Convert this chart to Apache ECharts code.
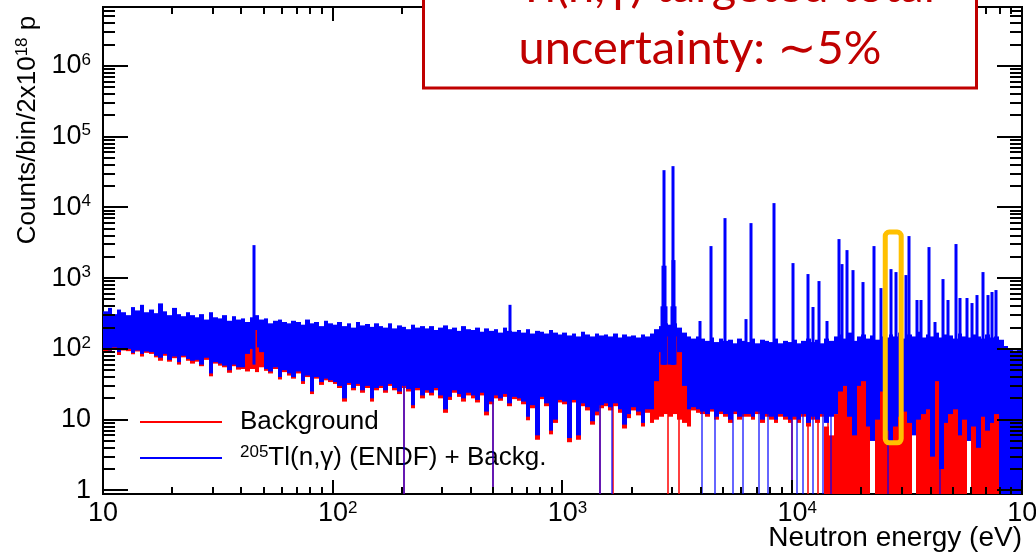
<!DOCTYPE html>
<html>
<head>
<meta charset="utf-8">
<script src="https://cdn.jsdelivr.net/npm/echarts@6/dist/echarts.min.js"></script>
<style>
  html, body { margin: 0; padding: 0; background: #fff; }
  #chart { width: 1036px; height: 555px; }
</style>
</head>
<body>
<div id="chart"></div>
<script>
// ---- axis limits -------------------------------------------------------
const X_MIN = 10, X_MAX = 1e5;        // neutron energy, eV
const Y_MIN = 0.89, Y_MAX = 6.8e6;    // counts / bin
const BINS_PER_DECADE = 50;           // equal-log-width histogram bins

// ---- tick marks and labels ---------------------------------------------
const xMajorTicks = [10, 100, 1000, 10000, 100000];
const xTickLabels = ['10', '10^2', '10^3', '10^4', '10^5'];
const yMajorTicks = [1, 10, 100, 1e3, 1e4, 1e5, 1e6];
const yTickLabels = ['1', '10', '10^2', '10^3', '10^4', '10^5', '10^6'];

// ---- 205Tl(n,g) (ENDF) + background: per-bin spread of the spectrum ----
// upper edge of the band (counts) for each bin, 10 eV -> 100 keV
const blueTop = [
  340, 380, 310, 360, 330, 300, 390, 350, 420, 330,
  360, 320, 440, 340, 300, 380, 310, 290, 330, 300,
  280, 310, 260, 330, 280, 270, 300, 250, 290, 260,
  270, 240, 280, 300, 260, 270, 230, 250, 260, 240,
  230, 250, 240, 220, 260, 230, 240, 210, 250, 230,
  220, 240, 210, 230, 200, 240, 215, 225, 205, 230,
  210, 200, 230, 195, 215, 205, 190, 220, 200, 210,
  195, 210, 185, 200, 215, 190, 200, 180, 210, 190,
  185, 200, 175, 195, 180, 190, 170, 200, 180, 175,
  185, 170, 190, 165, 180, 175, 165, 185, 170, 160,
  170, 155, 165, 150, 175, 160, 150, 165, 155, 160,
  150, 165, 145, 160, 150, 155, 145, 160, 150, 165,
  190, 210, 230, 220, 230, 200, 170, 150, 140, 150,
  140, 130, 145, 125, 140, 130, 135, 120, 140, 130,
  125, 140, 120, 135, 130, 125, 140, 120, 130, 125,
  135, 120, 130, 140, 125, 135, 120, 140, 130, 150,
  160, 140, 170, 130, 150, 160, 140, 155, 135, 150,
  145, 160, 150, 170, 140, 160, 150, 175, 145, 160,
  150, 170, 145, 160, 155, 140, 165, 150, 145, 160,
  150, 140, 160, 145, 150, 135, 110, 100, 95, 100
];
// lower edge of the band (0 = bin reaches zero counts)
const blueLow = [
  100, 95, 105, 90, 98, 100, 88, 95, 85, 92,
  90, 80, 75, 85, 70, 78, 65, 80, 72, 68,
  70, 60, 75, 45, 65, 62, 58, 50, 60, 55,
  55, 85, 100, 105, 90, 52, 48, 55, 40, 50,
  45, 40, 48, 35, 42, 25, 40, 34, 38, 36,
  34, 30, 20, 33, 28, 32, 26, 30, 20, 28,
  30, 26, 32, 28, 25, 30, 27, 16, 28, 22,
  26, 24, 28, 22, 14, 21, 26, 23, 20, 24,
  22, 19, 24, 13, 18, 22, 20, 23, 17, 21,
  20, 18, 11, 16, 6, 21, 17, 7, 10, 19,
  18, 5.5, 19, 6, 17, 15, 9.5, 13, 16, 17,
  15, 17, 14, 8.5, 12, 15, 13, 9, 14, 14,
  35, 90, 150, 60, 150, 90, 30, 14, 15, 14,
  13, 12, 14, 11, 13, 12, 10, 13, 11, 12,
  12, 11, 13, 10, 12, 11, 10, 12, 11, 10,
  11, 10, 12, 9, 11, 10, 12, 9, 11, 12,
  25, 30, 11, 6, 30, 35, 8, 5, 10, 25,
  7, 5, 8, 11, 13, 9, 6, 10, 12, 14,
  3, 35, 2, 9, 12, 14, 6, 10, 5, 8,
  4, 11, 7, 9, 12, 0, 0, 0, 0, 0
];

// ---- background only ---------------------------------------------------
const redTop = [
  250, 270, 230, 260, 240, 220, 280, 250, 300, 240,
  260, 230, 310, 240, 220, 270, 225, 210, 240, 220,
  200, 225, 190, 240, 200, 195, 215, 180, 210, 190,
  195, 120, 160, 140, 100, 195, 165, 180, 190, 175,
  165, 180, 175, 160, 185, 165, 175, 150, 180, 165,
  160, 175, 150, 165, 145, 175, 155, 160, 150, 165,
  150, 145, 165, 140, 155, 150, 135, 160, 145, 150,
  140, 150, 135, 145, 155, 135, 145, 130, 150, 135,
  135, 145, 125, 140, 130, 135, 120, 145, 130, 125,
  135, 120, 135, 120, 130, 125, 120, 135, 120, 115,
  120, 110, 120, 110, 125, 115, 110, 120, 110, 115,
  110, 120, 105, 115, 110, 110, 105, 115, 110, 60,
  40, 100, 160, 70, 160, 100, 35, 50, 100, 105,
  100, 95, 105, 90, 100, 95, 95, 85, 100, 95,
  90, 100, 85, 95, 95, 90, 100, 85, 95, 90,
  95, 85, 95, 100, 90, 95, 85, 8, 6, 12,
  30, 35, 12, 8, 40, 45, 10, null, 12, 28,
  9, 9, 10, 12, 15, 12, null, 12, 14, 16,
  25, 40, 20, 10, 15, 16, 8, 12, null, 10,
  8, 14, 9, 11, 14, null, null, null, null, null
];
const redLow = [
  92, 90, 100, 82, 95, 93, 84, 92, 78, 88,
  85, 76, 68, 80, 66, 74, 60, 76, 68, 62,
  66, 57, 70, 41, 62, 58, 55, 46, 57, 51,
  52, 48, 52, 47, 55, 49, 45, 52, 37, 47,
  42, 38, 45, 32, 40, 23, 38, 31, 36, 34,
  32, 28, 18, 31, 26, 30, 24, 28, 18, 26,
  28, 24, 30, 26, 23, 28, 25, 14.5, 26, 20,
  24, 22, 26, 20, 12.5, 19, 24, 21, 18, 22,
  20, 17.5, 22, 11.5, 16.5, 20, 18.5, 21, 15.5, 19.5,
  18.5, 16.5, 9.8, 14.5, 5.2, 19.5, 15.5, 6.2, 9, 17.5,
  16.5, 4.8, 17.5, 5.2, 15.5, 13.5, 8.5, 11.5, 14.5, 15.5,
  13.5, 15.5, 12.5, 7.5, 10.5, 13.5, 11.5, 8, 12.5, 9,
  10, 11, 12, 11, 12, 10, 9, 8, 13.5, 12.5,
  12, 11, 13, 10, 12, 11, 9, 12, 10, 11,
  11, 10, 12, 9, 11, 10, 9, 11, 10, 9,
  10, 9, 11, 8, 10, 9, 11, 0, 0, 0,
  0, 0, 0, 0, 0, 0, 0, null, 0, 0,
  0, 0, 0, 0, 0, 0, null, 0, 0, 0,
  0, 0, 0, 0, 0, 0, 0, 0, null, 0,
  0, 0, 0, 0, 0, null, null, null, null, null
];

// ---- narrow resonances rising out of the band: [energy eV, counts] ------
const blueResonances = [
  [45.2, 2930], [593, 420],
  [2720, 400], [2750, 1500], [2776, 33600], [2800, 1500], [2830, 400],
  [2990, 400], [3015, 1800], [3038, 38300], [3065, 1800], [3090, 400],
  [3983, 248], [4446, 2840], [5117, 7060], [6310, 264], [6637, 6000],
  [8356, 11500], [10110, 1633], [11750, 1143], [12360, 391], [13130, 910],
  [14220, 248], [16030, 3567], [16520, 1581], [17380, 2493], [18460, 1300],
  [20400, 881], [22760, 2840], [24420, 724], [26990, 1343], [28380, 1219],
  [31360, 1106], [32340, 3935], [35010, 491], [36450, 491], [39510, 2750],
  [41980, 240], [45480, 971], [47860, 491], [51800, 3035], [53950, 524],
  [57830, 524], [60810, 445], [63970, 577], [67940, 1219], [71450, 577],
  [74300, 637], [77400, 679]
];
const redResonances = [[46.3, 185]];

// ---- empty bins (drawn as drops to the bottom of the frame), energy eV --
const blueEmptyBins = [205, 500, 1462, 1648, 4064, 4627, 5543, 6125, 7190, 7870,
                       10000, 10500, 11180, 12360, 13650, 14800, 26000, 44000];
const redEmptyBins = [205, 500, 1462, 1660, 2891, 3200, 10000, 11750, 12990, 14350];

// energy window of the 28 keV resonance being highlighted: [E0, E1, lo, hi]
const highlightWindow = [25400, 29800, 4.7, 4480];

// ------------------------------------------------------------------------
const BLUE = '#0000ff', RED = '#ff0000';
const FONT = '"Liberation Sans", Arial, Helvetica, sans-serif';
const DROP_TOP = 40;      // drops start inside the band
const PEAK_BASE = 60;     // resonance lines start inside the band

const binEdge = i => X_MIN * Math.pow(10, i / BINS_PER_DECADE);
const toBins = (lo, hi) => hi.map((h, i) => [binEdge(i), binEdge(i + 1), lo[i], h]);

const blueBand = toBins(blueLow, blueTop);
const redBand = toBins(redLow, redTop);

function bandRenderer(color) {
  return function (params, api) {
    const lo = api.value(2), hi = api.value(3);
    if (isNaN(lo) || isNaN(hi)) return null;
    const a = api.coord([api.value(0), hi]);
    const b = api.coord([api.value(1), Math.max(lo, Y_MIN)]);
    const x0 = Math.round(a[0]), x1 = Math.round(b[0]);
    return {
      type: 'rect',
      shape: { x: x0, y: a[1], width: Math.max(1, x1 - x0), height: b[1] - a[1] },
      style: { fill: color }
    };
  };
}

function lineRenderer(color, width, opacity) {
  return function (params, api) {
    const top = api.coord([api.value(0), api.value(1)]);
    const bot = api.coord([api.value(0), api.value(2)]);
    const x = Math.round(top[0]);
    return {
      type: 'line',
      shape: { x1: x, y1: bot[1], x2: x, y2: top[1] },
      style: { stroke: color, lineWidth: width, opacity: opacity }
    };
  };
}

// tick marks on all four sides of the frame
const tickRows = [];
xMajorTicks.forEach(v => tickRows.push([v, 1]));
for (let d = 1; d <= 4; d++) for (let m = 2; m <= 9; m++) tickRows.push([m * Math.pow(10, d), 2]);
yMajorTicks.forEach(v => tickRows.push([v, 3]));
for (let d = 0; d <= 6; d++) for (let m = 2; m <= 9; m++) {
  const v = m * Math.pow(10, d);
  if (v < Y_MAX) tickRows.push([v, 4]);
}

function tickRenderer(params, api) {
  const v = api.value(0), kind = api.value(1);
  const ll = api.coord([X_MIN, Y_MIN]), ur = api.coord([X_MAX, Y_MAX]);
  const st = { stroke: '#000', lineWidth: 2 };
  if (kind <= 2) {
    const x = Math.round(api.coord([v, Y_MIN])[0]);
    const len = kind === 1 ? 14 : 7;
    return { type: 'group', children: [
      { type: 'line', shape: { x1: x, y1: ll[1], x2: x, y2: ll[1] - len }, style: st },
      { type: 'line', shape: { x1: x, y1: ur[1], x2: x, y2: ur[1] + len }, style: st }
    ] };
  }
  const y = Math.round(api.coord([X_MIN, v])[1]);
  const len = kind === 3 ? 25 : 12;
  return { type: 'group', children: [
    { type: 'line', shape: { x1: ll[0], y1: y, x2: ll[0] + len, y2: y }, style: st },
    { type: 'line', shape: { x1: ur[0], y1: y, x2: ur[0] - len, y2: y }, style: st }
  ] };
}

function richPow(txt, pad) {
  const parts = txt.split('^');
  if (parts.length === 1) return '{b|' + parts[0] + '}';
  return (pad ? '{p| }' : '') + '{b|' + parts[0] + '}{s|' + parts[1] + '}';
}
function labelFor(ticks, labels, pad) {
  return function (value) {
    for (let i = 0; i < ticks.length; i++) {
      if (Math.abs(Math.log10(value) - Math.log10(ticks[i])) < 1e-6) return richPow(labels[i], pad);
    }
    return '';
  };
}
const tickRich = {
  b: { fontFamily: FONT, fontSize: 27, lineHeight: 30, color: '#000' },
  s: { fontFamily: FONT, fontSize: 17, lineHeight: 17, padding: [0, 0, 12, 0], color: '#000' },
  p: { fontFamily: FONT, fontSize: 17, width: 10 }
};

const chart = echarts.init(document.getElementById('chart'), null, { renderer: 'canvas' });

chart.setOption({
  animation: false,
  backgroundColor: '#fff',
  grid: {
    left: 103, right: 14, top: 7, bottom: 61,
    show: true, borderColor: '#000', borderWidth: 2,
    outerBoundsMode: 'none'
  },
  xAxis: {
    type: 'log', logBase: 10, min: X_MIN, max: X_MAX,
    axisLine: { show: false }, axisTick: { show: false }, splitLine: { show: false },
    axisLabel: { margin: 5, formatter: labelFor(xMajorTicks, xTickLabels, true), rich: tickRich }
  },
  yAxis: {
    type: 'log', logBase: 10, min: Y_MIN, max: Y_MAX,
    axisLine: { show: false }, axisTick: { show: false }, splitLine: { show: false },
    axisLabel: { margin: 12, formatter: labelFor(yMajorTicks, yTickLabels, false), rich: tickRich }
  },
  legend: {
    orient: 'vertical', left: 140, top: 407, padding: 0,
    itemWidth: 82, itemHeight: 2, itemGap: 6, icon: 'rect',
    data: ['Background', 'tl205'],
    formatter: name => name === 'Background' ? 'Background' : '{sup|205}Tl(n,γ) (ENDF) + Backg.',
    textStyle: {
      fontFamily: FONT, fontSize: 26, lineHeight: 30, color: '#000', padding: [0, 0, 0, 13],
      rich: { sup: { fontFamily: FONT, fontSize: 17, lineHeight: 17, padding: [0, 0, 12, 0], color: '#000' } }
    }
  },
  series: [
    { name: 'Background', type: 'custom', z: 2, renderItem: bandRenderer(RED),
      itemStyle: { color: RED }, encode: { x: [0, 1], y: [2, 3] }, data: redBand },
    { name: 'bgEmpty', type: 'custom', z: 2, renderItem: lineRenderer(RED, 1.5, 1),
      encode: { x: 0, y: [1, 2] }, data: redEmptyBins.map(e => [e, DROP_TOP, Y_MIN]) },
    { name: 'tl205', type: 'custom', z: 3, renderItem: bandRenderer(BLUE),
      itemStyle: { color: BLUE }, encode: { x: [0, 1], y: [2, 3] }, data: blueBand },
    { name: 'bgPeaks', type: 'custom', z: 4, renderItem: lineRenderer(RED, 2, 1),
      encode: { x: 0, y: [1, 2] }, data: redResonances.map(p => [p[0], p[1], PEAK_BASE]) },
    { name: 'tlEmpty', type: 'custom', z: 4, renderItem: lineRenderer(BLUE, 1.5, 0.8),
      encode: { x: 0, y: [1, 2] }, data: blueEmptyBins.map(e => [e, DROP_TOP, Y_MIN]) },
    { name: 'tlPeaks', type: 'custom', z: 5, renderItem: lineRenderer(BLUE, 3, 1),
      encode: { x: 0, y: [1, 2] }, data: blueResonances.map(p => [p[0], p[1], PEAK_BASE]) },
    { name: 'window', type: 'custom', z: 6,
      encode: { x: [0, 1], y: [2, 3] }, data: [highlightWindow],
      renderItem: function (params, api) {
        const a = api.coord([api.value(0), api.value(3)]);
        const b = api.coord([api.value(1), api.value(2)]);
        return { type: 'rect',
          shape: { x: a[0], y: a[1], width: b[0] - a[0], height: b[1] - a[1], r: 4 },
          style: { fill: 'none', stroke: '#ffc000', lineWidth: 5 } };
      } },
    { name: 'frameTicks', type: 'custom', z: 7, renderItem: tickRenderer,
      encode: { x: 0 }, data: tickRows }
  ],
  graphic: [
    { type: 'text', z: 50, x: 28, y: 130, rotation: Math.PI / 2,
      style: { text: '{a|Counts/bin/2x10}{s|18}{a| p}', align: 'center', verticalAlign: 'middle',
        rich: {
          a: { fontFamily: FONT, fontSize: 26, lineHeight: 30, fill: '#000' },
          s: { fontFamily: FONT, fontSize: 17, lineHeight: 17, padding: [0, 0, 12, 0], fill: '#000' }
        } } },
    { type: 'text', z: 50, x: 1022, y: 538,
      style: { text: 'Neutron energy (eV)', fontFamily: FONT, fontSize: 28,
        align: 'right', verticalAlign: 'middle', fill: '#000' } },
    { type: 'rect', z: 100, shape: { x: 423.5, y: -30, width: 553, height: 118 },
      style: { fill: '#fff', stroke: '#c00000', lineWidth: 3 } },
    { type: 'text', z: 101, x: 700, y: -13,
      style: { text: '{s|205}{a|Tl(n,γ) targeted total}', align: 'center', verticalAlign: 'middle',
        rich: {
          a: { fontFamily: 'Lato, "DejaVu Sans", sans-serif', fontSize: 47, lineHeight: 56, fill: '#c00000' },
          s: { fontFamily: 'Lato, "DejaVu Sans", sans-serif', fontSize: 30, lineHeight: 30, padding: [0, 0, 22, 0], fill: '#c00000' }
        } } },
    { type: 'text', z: 101, x: 700, y: 49,
      style: { text: 'uncertainty: ∼5%', fontFamily: 'Lato, "DejaVu Sans", sans-serif', fontSize: 47,
        align: 'center', verticalAlign: 'middle', fill: '#c00000' } }
  ]
});
</script>
</body>
</html>
